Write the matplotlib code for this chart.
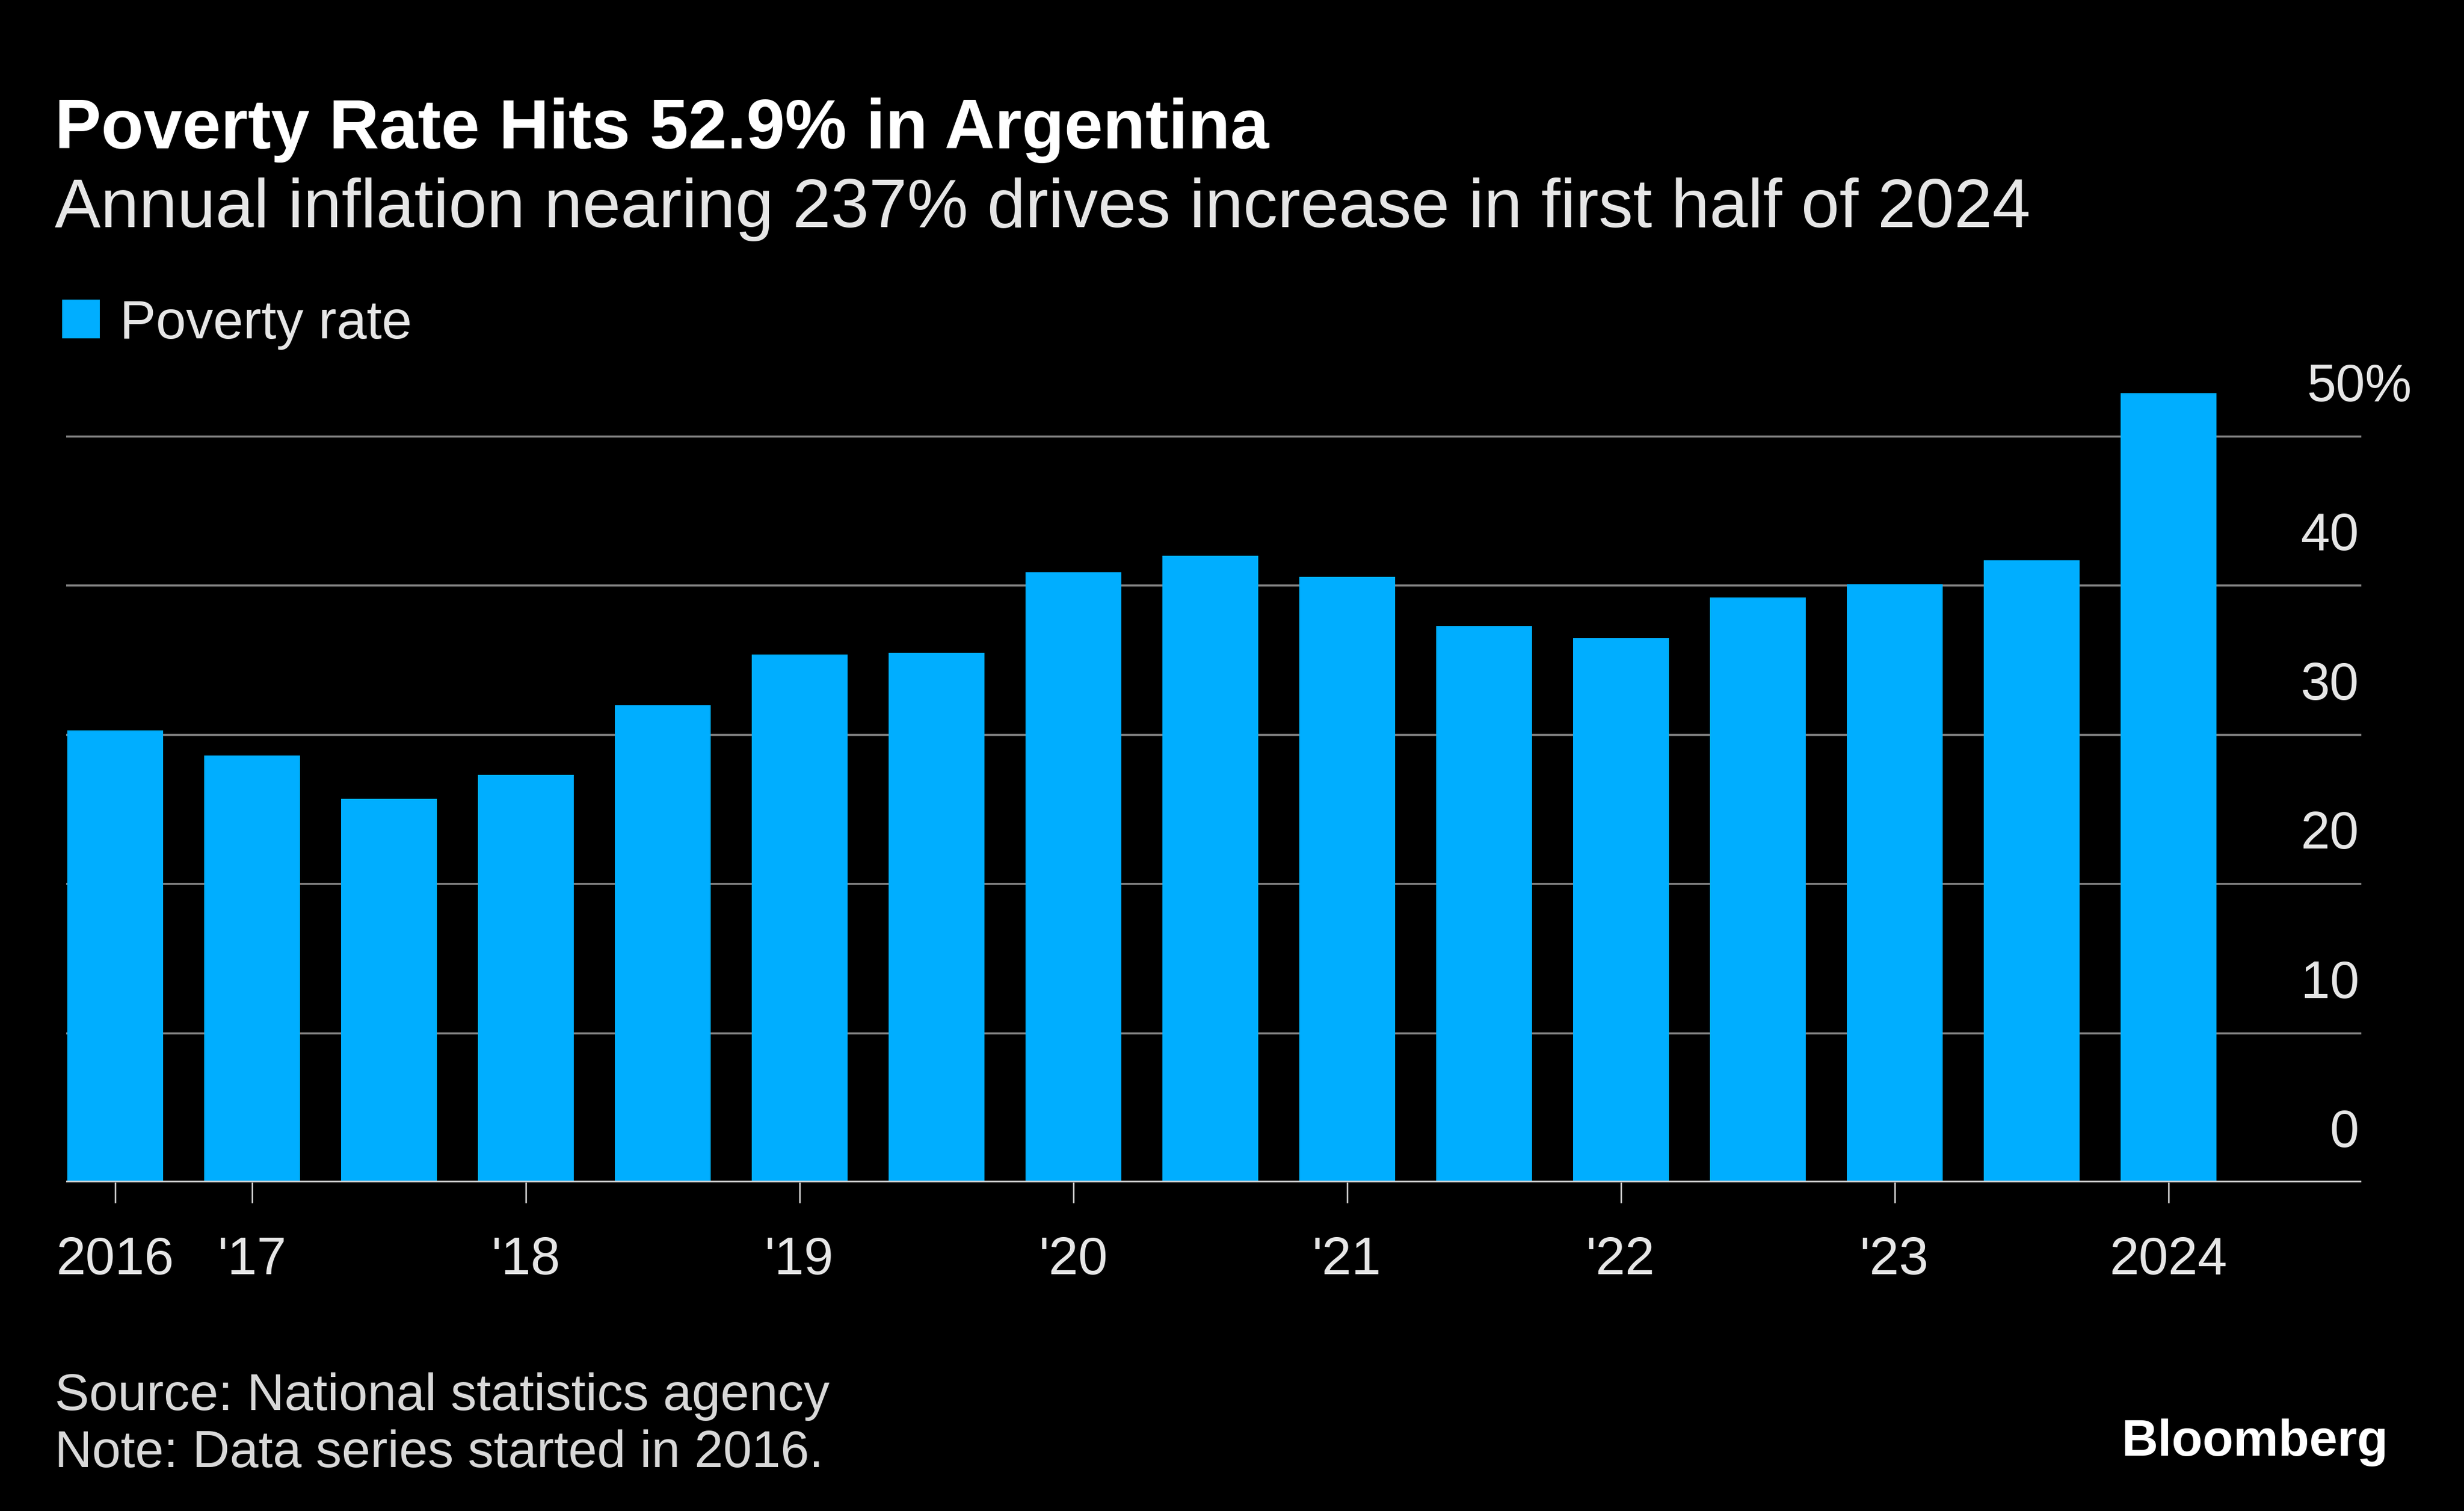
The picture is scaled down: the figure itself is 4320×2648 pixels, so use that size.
import matplotlib
matplotlib.use("Agg")
import matplotlib.pyplot as plt
from matplotlib.patches import Rectangle
from matplotlib.transforms import ScaledTranslation, blended_transform_factory

# ---------------- data ----------------
periods = ["2016 H2", "2017 H1", "2017 H2", "2018 H1", "2018 H2", "2019 H1", "2019 H2",
           "2020 H1", "2020 H2", "2021 H1", "2021 H2", "2022 H1", "2022 H2",
           "2023 H1", "2023 H2", "2024 H1"]
poverty_rate = [30.3, 28.6, 25.7, 27.3, 32.0, 35.4, 35.5, 40.9, 42.0, 40.6, 37.3,
                36.5, 39.2, 40.1, 41.7, 52.9]
x_tick_periods = ["2016 H2", "2017 H1", "2018 H1", "2019 H1", "2020 H1", "2021 H1",
                  "2022 H1", "2023 H1", "2024 H1"]
x_tick_labels = ["2016", "'17", "'18", "'19", "'20", "'21", "'22", "'23", "2024"]
y_ticks = [0, 10, 20, 30, 40, 50]
y_tick_labels = ["0", "10", "20", "30", "40", "50%"]

title = "Poverty Rate Hits 52.9% in Argentina"
subtitle = "Annual inflation nearing 237% drives increase in first half of 2024"
legend_label = "Poverty rate"
source = "Source: National statistics agency"
note = "Note: Data series started in 2016."
brand = "Bloomberg"

# ---------------- style ----------------
W, H, DPI = 4320, 2648, 100
BG = "#000000"
BAR = "#00AEFF"
GRID = "#858585"
ZERO = "#cfcfcf"
TXT = "#f2f2f2"
SUB = "#e6e6e6"
FOOT = "#d8d8d8"
plt.rcParams["font.family"] = ["Liberation Sans", "DejaVu Sans"]


def pt(px):
    return px * 72.0 / DPI


fig = plt.figure(figsize=(W / DPI, H / DPI), dpi=DPI, facecolor=BG)
renderer = fig.canvas.get_renderer()


def fit_text(x_px, base_px, target_w, s, weight="normal", color=TXT, ha="left"):
    t = fig.text(x_px / W, 1 - base_px / H, s, fontsize=50, fontweight=weight,
                 color=color, ha=ha, va="baseline")
    w = t.get_window_extent(renderer).width
    t.set_fontsize(50 * target_w / w)
    return t


# ---------------- axes ----------------
x_left_px, x_right_px = 115.6, 4140
y0_px, unit_px = 2072, 26.14
ymax = 55
top_px = y0_px - ymax * unit_px
ax = fig.add_axes([x_left_px / W, 1 - y0_px / H,
                   (x_right_px - x_left_px) / W, (y0_px - top_px) / H])
ax.set_facecolor(BG)

xs = list(range(len(periods)))
ax.bar(xs, poverty_rate, width=0.70, color=BAR, zorder=3)
ax.set_xlim(-0.36, 16.41)
ax.set_ylim(0, ymax)
for s in ax.spines.values():
    s.set_visible(False)

ax.set_yticks(y_ticks)
ax.set_yticklabels([])
ax.tick_params(axis="y", length=0)
ax.yaxis.grid(True, color=GRID, linewidth=pt(3.5))
ax.set_axisbelow(True)
ax.axhline(0, color=ZERO, linewidth=pt(6), zorder=4)

# y labels: right-aligned numbers sitting above their gridline
trans = blended_transform_factory(ax.transAxes, ax.transData)
for v, lab in zip(y_ticks, y_tick_labels):
    dx = 88 if lab.endswith("%") else -4
    off = ScaledTranslation(dx / DPI, 62 / DPI, fig.dpi_scale_trans)
    ax.text(1.0, v, lab, transform=trans + off, ha="right", va="baseline",
            fontsize=pt(92), color=SUB)

# x ticks
tick_pos = [periods.index(p) for p in x_tick_periods]
ax.set_xticks(tick_pos)
ax.set_xticklabels(x_tick_labels)
ax.tick_params(axis="x", direction="out", length=pt(36), width=pt(2.5),
               color="#dddddd", pad=pt(58), labelsize=pt(93), labelcolor=SUB)

# ---------------- texts ----------------
fit_text(96, 260, 2130, title, weight="bold", color="#ffffff")
fit_text(96, 398, 3466, subtitle, color=SUB)

fig.patches.append(Rectangle((109 / W, 1 - 593 / H), 66 / W, 68 / H,
                             transform=fig.transFigure, facecolor=BAR,
                             edgecolor="none"))
fit_text(210, 593, 513, legend_label, color=SUB)

fit_text(96, 2471, 1359, source, color=FOOT)
fit_text(96, 2571, 1350, note, color=FOOT)
fit_text(4187, 2551, 468, brand, weight="bold", color="#ffffff", ha="right")

fig.savefig("out.png", dpi=DPI, facecolor=BG)
